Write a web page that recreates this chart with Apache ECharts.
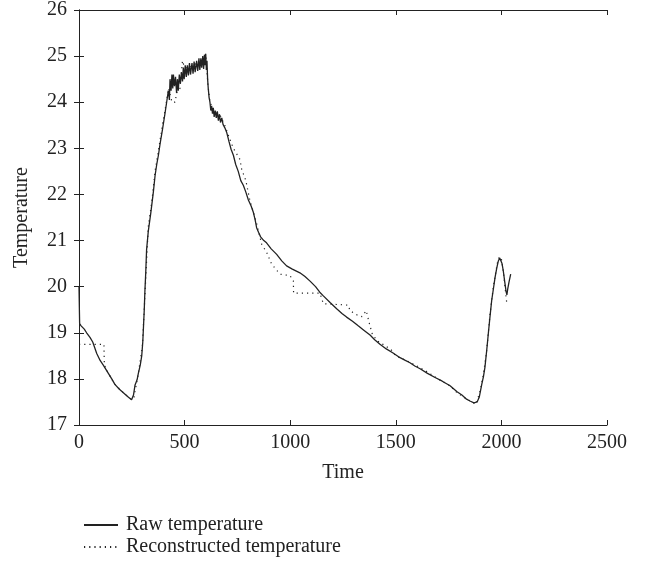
<!DOCTYPE html>
<html>
<head>
<meta charset="utf-8">
<script src="https://cdn.jsdelivr.net/npm/echarts@6/dist/echarts.min.js"></script>
<style>html,body{margin:0;padding:0;background:#fff}#c{width:645px;height:563px}</style>
</head>
<body>
<div id="c"></div>
<script>
const xTicks = [0, 500, 1000, 1500, 2000, 2500];
const yTicks = [17, 18, 19, 20, 21, 22, 23, 24, 25, 26];
const rawTime = [0,3,10,25,36,52,65,84,100,115,139,155,170,190,210,230,249,255,258,265,275,281,290,297,302,305,309,312,316,320,328,340,352,360,368,376,384,395,407,415,423,428,431,436,440,444,447,452,457,462,466,470,475,480,485,490,494,498,503,508,513,518,523,528,535,540,545,550,557,562,568,572,577,581,586,590,594,597,600,603,606,609,612,616,620,624,628,632,636,640,645,650,655,660,665,670,676,682,690,699,710,720,731,742,754,766,778,790,802,815,825,834,841,850,860,875,888,910,936,960,983,1010,1046,1070,1094,1120,1140,1157,1190,1220,1245,1267,1295,1322,1350,1378,1400,1425,1455,1487,1520,1545,1567,1590,1615,1650,1686,1720,1757,1790,1813,1835,1851,1870,1885,1895,1907,1915,1922,1930,1938,1946,1954,1962,1970,1978,1985,1992,1998,2003,2009,2016,2022,2026,2030,2036,2044];
const rawTemp = [20.0,19.2,19.15,19.08,19.0,18.9,18.8,18.55,18.4,18.3,18.12,18.0,17.88,17.78,17.7,17.62,17.55,17.52,17.65,17.86,17.98,18.12,18.3,18.5,18.8,19.1,19.5,19.9,20.3,20.8,21.2,21.6,22.05,22.4,22.65,22.85,23.1,23.4,23.75,24.0,24.25,24.05,24.5,24.25,24.6,24.3,24.6,24.35,24.55,24.2,24.5,24.25,24.6,24.4,24.65,24.45,24.75,24.5,24.8,24.55,24.8,24.58,24.85,24.6,24.85,24.62,24.88,24.65,24.9,24.68,24.95,24.7,24.95,24.75,25.0,24.72,25.03,24.8,25.05,24.7,24.9,24.5,24.3,24.1,24.0,23.82,23.92,23.75,23.88,23.68,23.82,23.66,23.8,23.6,23.74,23.56,23.66,23.52,23.45,23.35,23.15,22.98,22.85,22.65,22.5,22.3,22.2,22.05,21.88,21.75,21.62,21.45,21.28,21.18,21.08,21.0,20.95,20.82,20.7,20.56,20.45,20.38,20.3,20.22,20.12,20.0,19.88,19.8,19.65,19.52,19.42,19.34,19.25,19.15,19.05,18.95,18.85,18.75,18.65,18.56,18.46,18.4,18.35,18.28,18.22,18.12,18.03,17.95,17.85,17.72,17.65,17.56,17.52,17.48,17.5,17.6,17.88,18.05,18.25,18.6,18.98,19.35,19.7,19.95,20.2,20.4,20.55,20.62,20.64,20.5,20.34,20.1,19.9,19.82,19.95,20.1,20.27];
const recTime = [0,118,120,139,170,210,249,260,281,300,312,328,345,360,376,395,410,425,440,455,462,478,490,500,520,540,560,580,600,610,620,640,670,690,710,731,762,770,790,810,830,845,865,889,912,952,999,1015,1016,1141,1157,1275,1283,1322,1340,1360,1375,1390,1420,1450,1480,1500,1540,1600,1650,1700,1757,1790,1830,1860,1880,1900,1915,1930,1946,1962,1980,1990,2000,2010,2025,2030];
const recTemp = [18.75,18.75,18.3,18.12,17.88,17.7,17.55,17.6,18.12,18.7,19.8,21.3,21.85,22.5,22.95,23.5,23.9,24.3,24.0,24.0,24.2,24.3,24.9,24.75,24.75,24.8,24.85,24.85,25.05,24.4,24.0,23.8,23.7,23.5,23.25,23.0,22.76,22.55,22.3,21.85,21.55,21.3,20.92,20.74,20.49,20.27,20.24,20.13,19.86,19.86,19.63,19.6,19.48,19.37,19.35,19.48,19.2,18.95,18.8,18.72,18.62,18.5,18.42,18.28,18.15,18.0,17.85,17.7,17.58,17.5,17.45,17.75,18.1,18.6,19.4,20.0,20.5,20.65,20.6,20.3,19.66,19.7];

const FONT = '"Liberation Serif", "DejaVu Serif", serif';
const C = '#222';
const chart = echarts.init(document.getElementById('c'), null, {renderer: 'canvas'});
const axisCommon = {
  axisLine: {show: true, lineStyle: {color: C, width: 1}},
  axisTick: {show: true, inside: true, length: 5, lineStyle: {color: C}},
  splitLine: {show: false}
};
const legendCommon = {
  orient: 'vertical', left: 78, itemWidth: 34, itemHeight: 14, itemGap: 0,
  itemStyle: {opacity: 0},
  textStyle: {fontFamily: FONT, fontSize: 20, color: C, padding: [0, 0, 0, 3]}
};
chart.setOption({
  animation: false,
  backgroundColor: '#fff',
  grid: {left: 79, right: 38, top: 8, bottom: 138},
  legend: [
    Object.assign({top: 510, data: ['Raw temperature']}, legendCommon),
    Object.assign({top: 532, data: ['Reconstructed temperature']}, legendCommon)
  ],
  xAxis: [
    Object.assign({type: 'value', min: xTicks[0], max: xTicks[xTicks.length - 1], interval: 500,
      name: 'Time', nameLocation: 'middle', nameGap: 38,
      nameTextStyle: {fontFamily: FONT, fontSize: 20, color: C},
      axisLabel: {fontFamily: FONT, fontSize: 20, color: C, margin: 8, formatter: v => String(v)}}, axisCommon),
    Object.assign({type: 'value', position: 'top', min: xTicks[0], max: xTicks[xTicks.length - 1], interval: 500,
      axisLabel: {show: false}}, axisCommon)
  ],
  yAxis: [
    Object.assign({type: 'value', min: yTicks[0], max: yTicks[yTicks.length - 1], interval: 1,
      name: 'Temperature', nameLocation: 'middle', nameGap: 47,
      nameTextStyle: {fontFamily: FONT, fontSize: 20, color: C},
      axisLabel: {fontFamily: FONT, fontSize: 20, color: C, margin: 12, formatter: v => String(v)}}, axisCommon),
    Object.assign({type: 'value', position: 'right', min: yTicks[0], max: yTicks[yTicks.length - 1], interval: 1,
      axisLabel: {show: false}}, axisCommon)
  ],
  series: [
    {name: 'Raw temperature', type: 'line', symbol: 'none', xAxisIndex: 0, yAxisIndex: 0,
      lineStyle: {color: C, width: 1.3}, itemStyle: {color: C},
      data: rawTime.map((t, i) => [t, rawTemp[i]])},
    {name: 'Reconstructed temperature', type: 'line', symbol: 'none', xAxisIndex: 0, yAxisIndex: 0,
      lineStyle: {color: C, width: 1.2, type: [1.2, 4]}, itemStyle: {color: C},
      data: recTime.map((t, i) => [t, recTemp[i]])}
  ]
});
</script>
</body>
</html>
